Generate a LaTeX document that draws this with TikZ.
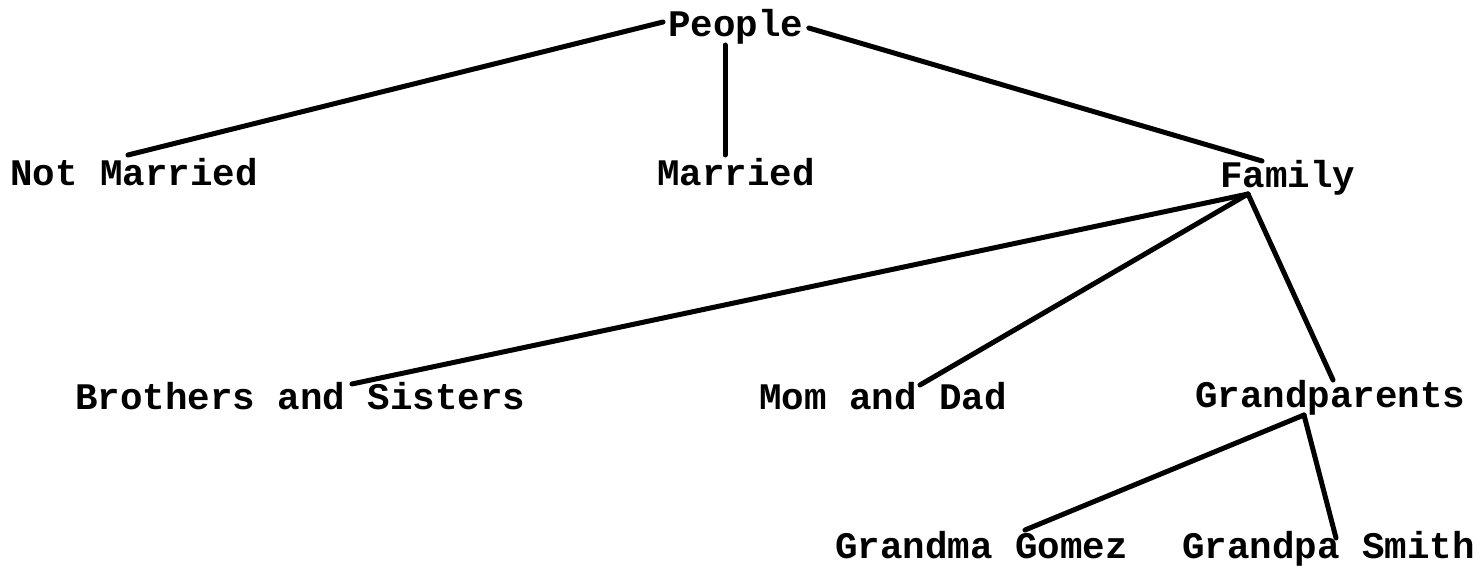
\documentclass[tikz,border=0pt]{standalone}
\usepackage{fontspec}
\setmonofont{Liberation Mono}
\usepackage{tikz}
\usetikzlibrary{positioning,calc}

\begin{document}
\begin{tikzpicture}[x=0.5pt, y=-0.5pt,
  word/.style={inner sep=0pt, anchor=base west, font=\fontsize{18.75}{20}\selectfont\ttfamily\bfseries},
  link/.style={line width=2.5pt, line cap=round}]
\useasboundingbox (0,0) rectangle (1482,566);
% row 0
\node[word] (people) at (668,37) {People};
% row 1
\node[word] (notm) at (10,186) {Not Married};
\node[word] (marr) at (657,186) {Married};
\node[word] (fam) at (1220,188) {Family};
% row 2
\node[word] (sibs) at (75,409) {Brothers and Sisters};
\node[word] (parents) at (759,409) {Mom and Dad};
\node[word] (gparents) at (1195,408) {Grandparents};
% row 3
\node[word] (gma) at (835,558) {Grandma Gomez};
\node[word] (gpa) at (1182,558) {Grandpa Smith};
\draw[link] ($(people.base west)+(-5,-15)$) -- ($(notm.base west)+(118,-31)$);
\draw[link] ($(people.base west)+(57,8)$) -- ($(marr.base west)+(68,-31)$);
\draw[link] ($(people.base east)+(5,-9)$) -- ($(fam.base west)+(42,-27)$);
\draw[link] ($(fam.base west)+(28,6)$) -- ($(sibs.base west)+(277,-25)$);
\draw[link] ($(fam.base west)+(28,6)$) -- ($(parents.base west)+(161,-24)$);
\draw[link] ($(fam.base west)+(28,6)$) -- ($(gparents.base west)+(138,-28)$);
\draw[link] ($(gparents.base west)+(109,7)$) -- ($(gma.base west)+(190,-28)$);
\draw[link] ($(gparents.base west)+(109,7)$) -- ($(gpa.base west)+(154,-20)$);
\end{tikzpicture}
\end{document}
